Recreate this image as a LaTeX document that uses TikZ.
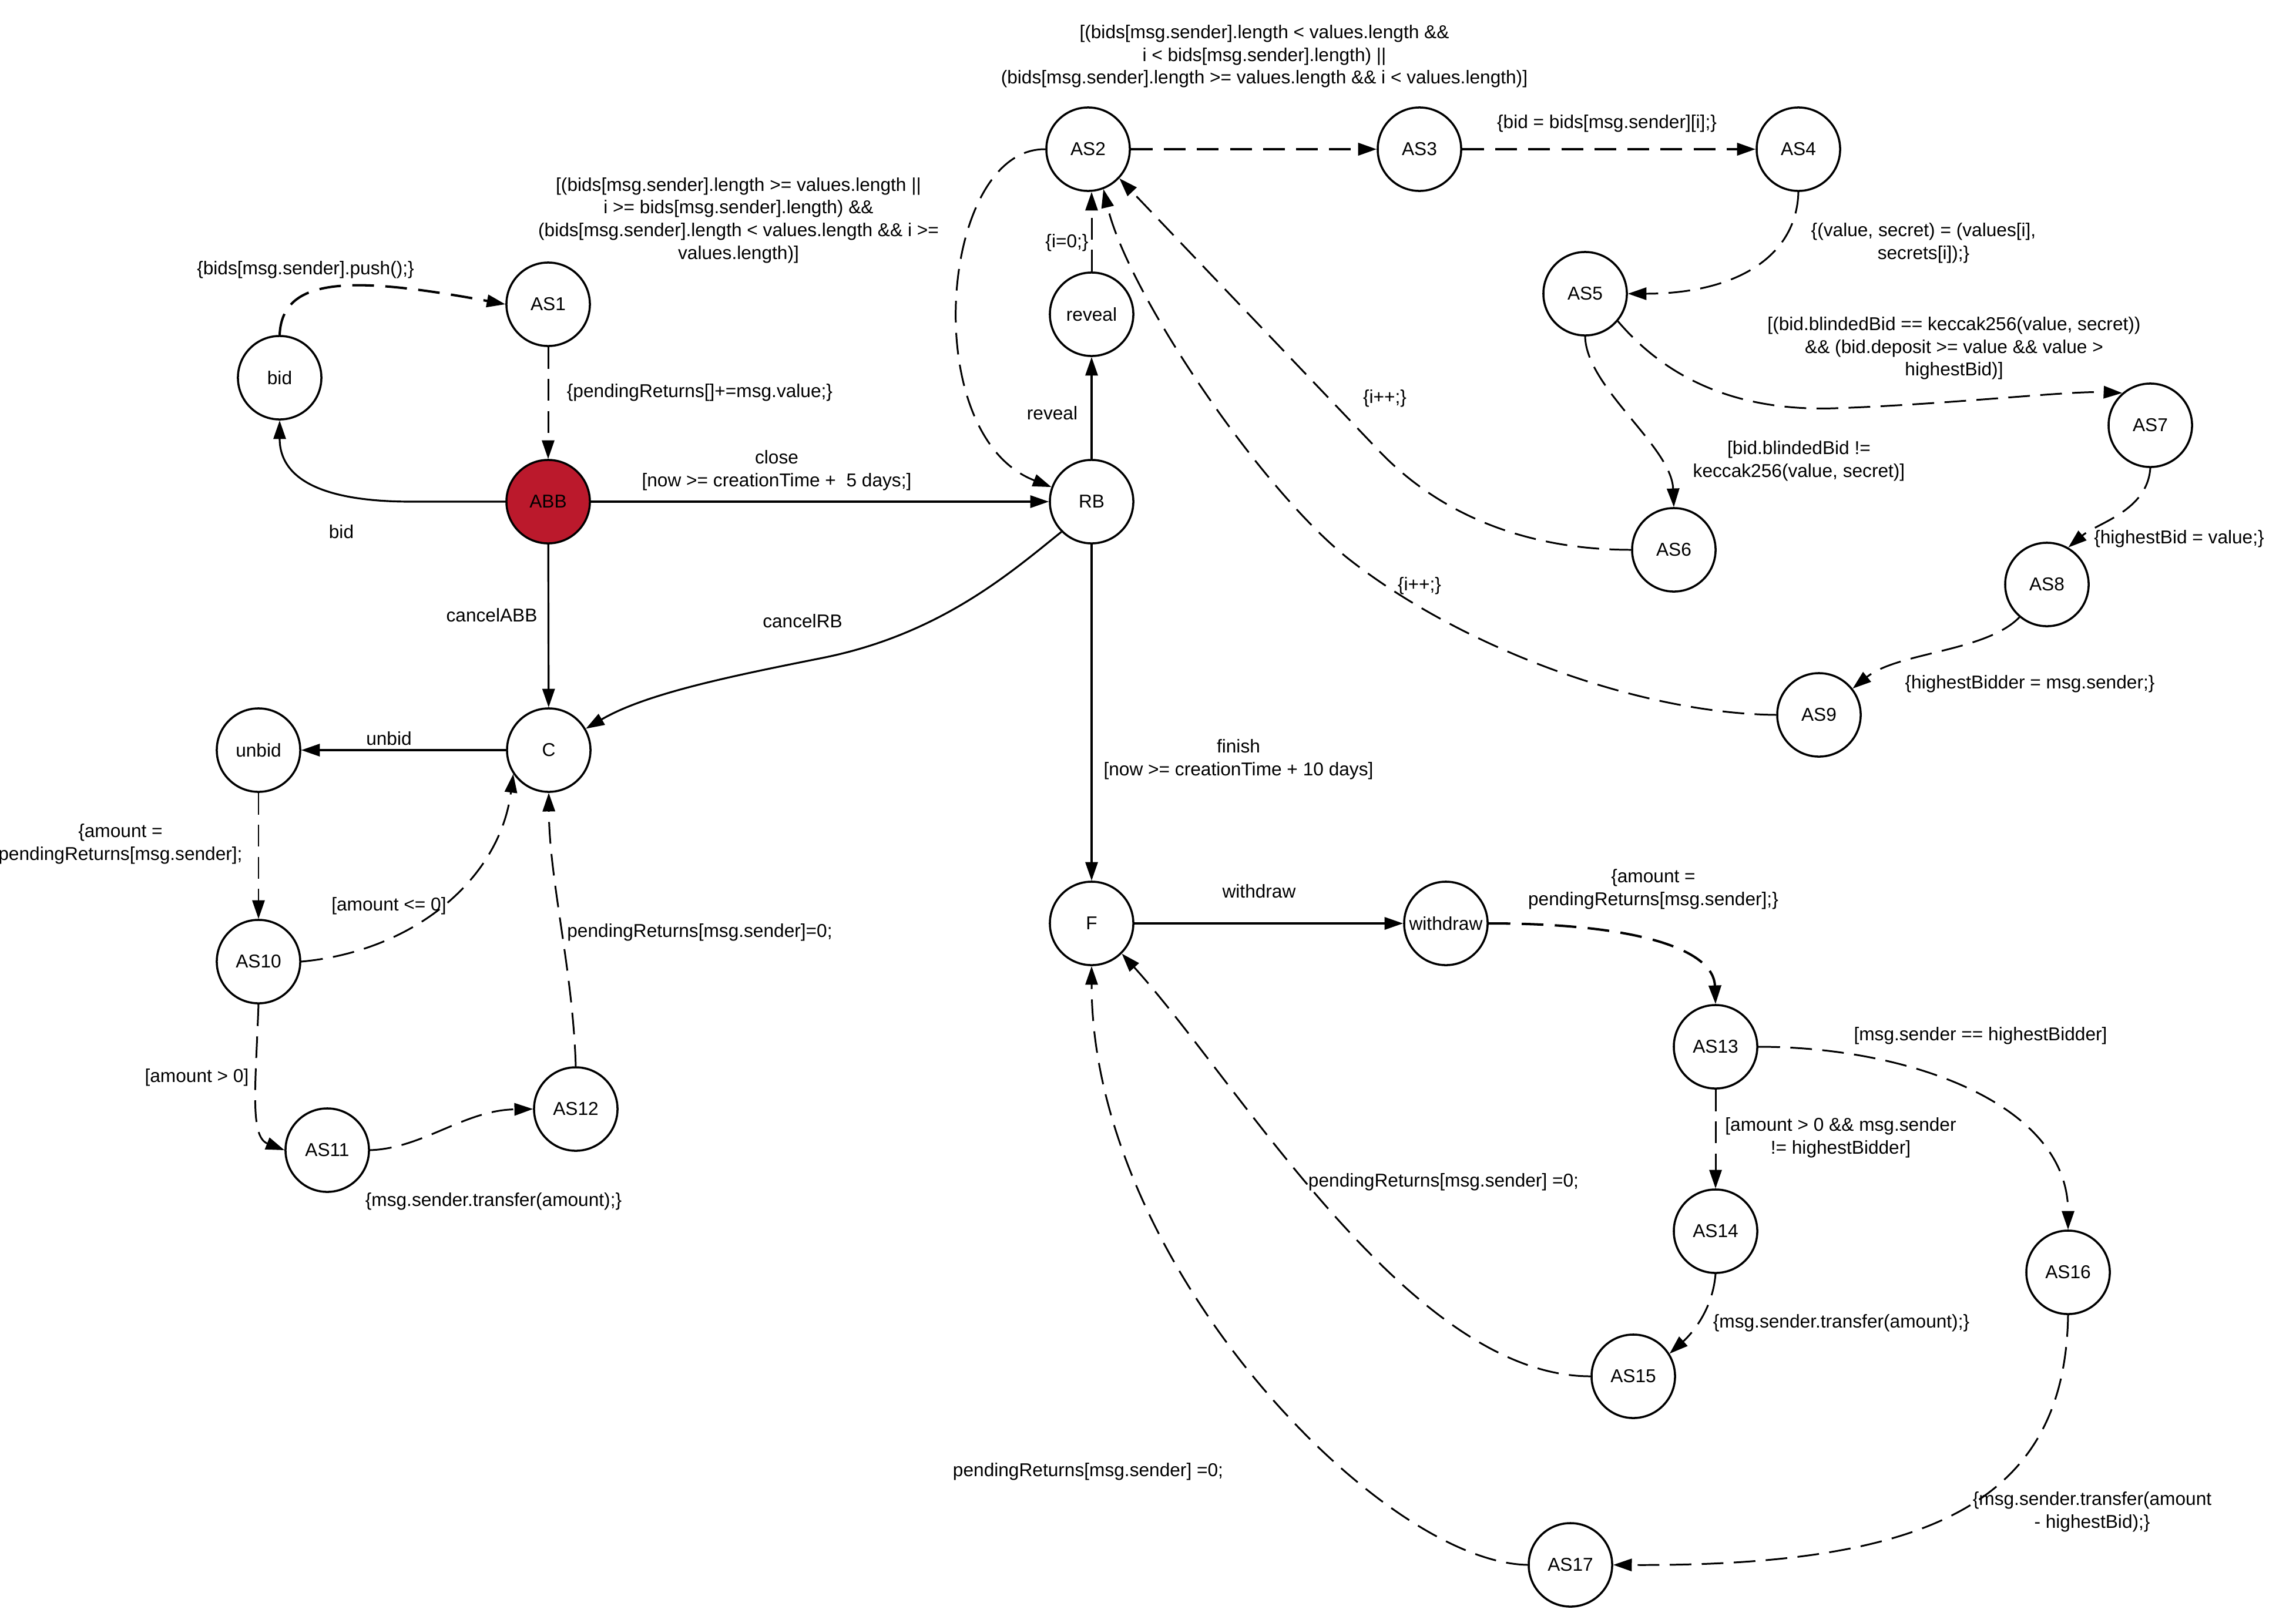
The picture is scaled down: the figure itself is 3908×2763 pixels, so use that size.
\documentclass[tikz,border=0pt]{standalone}
\usepackage{fontspec}
\setmainfont{Liberation Sans}
\usetikzlibrary{arrows.meta}
\definecolor{abbred}{RGB}{187,25,44}
\begin{document}
\begin{tikzpicture}[x=0.01cm,y=-0.01cm,
  st/.style={circle,draw,line width=1pt,minimum size=1.42cm,inner sep=0pt,font=\fontsize{9}{11}\selectfont},
  lbl/.style={align=center,font=\fontsize{9}{11}\selectfont,inner sep=0pt},
  tr/.style={line width=0.9pt,-{Triangle[length=9pt,width=6pt]}},
  dtr/.style={line width=0.85pt,dash pattern=on 10.5pt off 5pt,-{Triangle[length=9pt,width=6pt]}},
  dtrb/.style={line width=1.15pt,dash pattern=on 10.5pt off 5.5pt,-{Triangle[length=9pt,width=6pt]}},
]
\fill[white] (0,0) rectangle (3908,2763);
\useasboundingbox (0,0) rectangle (3908,2763);

% states
\node[st] (bid) at (476,643) {bid};
\node[st] (AS1) at (933,518) {AS1};
\node[st,fill=abbred] (ABB) at (933,854) {ABB};
\node[st] (RB) at (1858,854) {RB};
\node[st] (reveal) at (1858,535) {reveal};
\node[st] (AS2) at (1852,254) {AS2};
\node[st] (AS3) at (2416,254) {AS3};
\node[st] (AS4) at (3061,254) {AS4};
\node[st] (AS5) at (2698,500) {AS5};
\node[st] (AS6) at (2849,936) {AS6};
\node[st] (AS7) at (3660,724) {AS7};
\node[st] (AS8) at (3484,995) {AS8};
\node[st] (AS9) at (3096,1217) {AS9};
\node[st] (C) at (934,1277) {C};
\node[st] (unbid) at (440,1277) {unbid};
\node[st] (AS10) at (440,1637) {AS10};
\node[st] (AS11) at (557,1958) {AS11};
\node[st] (AS12) at (980,1888) {AS12};
\node[st] (F) at (1858,1572) {F};
\node[st] (withdraw) at (2461,1572) {withdraw};
\node[st] (AS13) at (2920,1782) {AS13};
\node[st] (AS14) at (2920,2096) {AS14};
\node[st] (AS15) at (2780,2343) {AS15};
\node[st] (AS16) at (3520,2166) {AS16};
\node[st] (AS17) at (2673,2664) {AS17};

% solid transitions
\draw[tr] (ABB.west) -- (700,854) .. controls (520,854) and (476,800) .. (bid.south);
\draw[tr] (ABB) -- (RB);
\draw[tr] (ABB) -- (C);
\draw[tr] (RB.-135) .. controls (1720,975) and (1600,1080) .. (1400,1120) .. controls (1250,1150) and (1100,1180) .. (C.30);
\draw[tr] (RB) -- (reveal);
\draw[tr] (C) -- (unbid);
\draw[tr] (RB) -- (F);
\draw[tr] (F) -- (withdraw);

% dashed transitions
\draw[dtrb] (bid.north) .. controls (480,470) and (600,470) .. (AS1.west);
\draw[dtr] (AS1) -- (ABB);
\draw[dtr] (reveal.north) -- (reveal.north |- AS2.south);
\draw[dtr] (AS2.west) .. controls (1600,252) and (1560,740) .. (RB.160);
\draw[dtrb] (AS2) -- (AS3);
\draw[dtrb] (AS3) -- (AS4);
\draw[dtr] (AS4.south) .. controls (3058,440) and (2950,500) .. (AS5.east);
\draw[dtr] (AS5.-40) .. controls (2850,660) and (2980,700) .. (3124,695) .. controls (3324,688) and (3520,665) .. (AS7.131);
\draw[dtr] (AS5.south) .. controls (2700,660) and (2845,760) .. (AS6.north);
\draw[dtr] (AS6.west) .. controls (2620,936) and (2460,890) .. (2340,760) -- (AS2.-43);
\draw[dtr] (AS7.south) .. controls (3655,870) and (3570,890) .. (AS8.60);
\draw[dtr] (AS8.-130) .. controls (3380,1110) and (3230,1110) .. (AS9.38);
\draw[dtr] (AS9.west) .. controls (2800,1215) and (2500,1110) .. (2300,955) .. controls (2150,840) and (1920,500) .. (AS2.-69);
\draw[dtr] (unbid) -- (AS10);
\draw[dtr] (AS10.east) .. controls (700,1620) and (850,1500) .. (C.-146);
\draw[dtr] (AS10.south) .. controls (435,1850) and (425,1935) .. (AS11.west);
\draw[dtr] (AS11.east) .. controls (720,1955) and (790,1890) .. (AS12.west);
\draw[dtr] (AS12.north) .. controls (975,1650) and (935,1500) .. (C.south);
\draw[dtrb] (withdraw.east) .. controls (2800,1572) and (2917,1620) .. (AS13.north);
\draw[dtr] (AS13) -- (AS14);
\draw[dtr] (AS13.east) .. controls (3250,1782) and (3520,1880) .. (AS16.north);
\draw[dtr] (AS14.south) .. controls (2915,2230) and (2880,2270) .. (AS15.32);
\draw[dtr] (AS15.west) .. controls (2400,2343) and (2110,1845) .. (F.-45);
\draw[dtr] (AS16.south) .. controls (3515,2560) and (3280,2667) .. (AS17.east);
\draw[dtr] (AS17.west) .. controls (2350,2660) and (1858,2150) .. (F.south);

% labels
\node[lbl] (l1) at (581,905) {bid};
\node[lbl] (l2) at (1322,801) {close\\{}[now >= creationTime +\ \ 5 days;]};
\node[lbl] (l3) at (837,1047) {cancelABB};
\node[lbl] (l4) at (1366,1057) {cancelRB};
\node[lbl] (l5) at (1791,703) {reveal};
\node[lbl] (l6) at (662,1257) {unbid};
\node[lbl] (l7) at (2108,1293) {finish\\{}[now >= creationTime + 10 days]};
\node[lbl] (l8) at (2143,1517) {withdraw};
\node[lbl] (l9) at (520,459) {\{bids[msg.sender].push();\}};
\node[lbl] (l10) at (1191,668) {\{pendingReturns[]+=msg.value;\}};
\node[lbl] (l11) at (1816,413) {\{i=0;\}};
\node[lbl] (l12) at (1257,375) {[(bids[msg.sender].length >= values.length ||\\i >= bids[msg.sender].length) \&\&\\(bids[msg.sender].length < values.length \&\& i >=\\values.length)]};
\node[lbl] (l13) at (2152,96) {[(bids[msg.sender].length < values.length \&\&\\i < bids[msg.sender].length) ||\\(bids[msg.sender].length >= values.length \&\& i < values.length)]};
\node[lbl] (l14) at (2735,210) {\{bid = bids[msg.sender][i];\}};
\node[lbl] (l15) at (3274,414) {\{(value, secret) = (values[i],\\secrets[i]);\}};
\node[lbl] (l16) at (3326,593) {[(bid.blindedBid == keccak256(value, secret))\\\&\& (bid.deposit >= value \&\& value >\\highestBid)]};
\node[lbl] (l17) at (3062,785) {[bid.blindedBid !=\\keccak256(value, secret)]};
\node[lbl] (l18) at (2357,678) {\{i++;\}};
\node[lbl] (l19) at (3709,917) {\{highestBid = value;\}};
\node[lbl] (l20) at (3455,1164) {\{highestBidder = msg.sender;\}};
\node[lbl] (l21) at (2416,997) {\{i++;\}};
\node[lbl] (l22) at (205,1437) {\{amount =\\pendingReturns[msg.sender];};
\node[lbl] (l23) at (662,1542) {[amount <= 0]};
\node[lbl] (l24) at (335,1834) {[amount > 0]};
\node[lbl] (l25) at (840,2045) {\{msg.sender.transfer(amount);\}};
\node[lbl] (l26) at (1191,1587) {pendingReturns[msg.sender]=0;};
\node[lbl] (l27) at (2814,1514) {\{amount =\\pendingReturns[msg.sender];\}};
\node[lbl] (l28) at (3371,1763) {[msg.sender == highestBidder]};
\node[lbl] (l29) at (3133,1937) {[amount > 0 \&\& msg.sender\\!= highestBidder]};
\node[lbl] (l30) at (3134,2252) {\{msg.sender.transfer(amount);\}};
\node[lbl] (l31) at (2457,2012) {pendingReturns[msg.sender] =0;};
\node[lbl] (l32) at (3561,2574) {\{msg.sender.transfer(amount\\- highestBid);\}};
\node[lbl] (l33) at (1852,2505) {pendingReturns[msg.sender] =0;};
\end{tikzpicture}
\end{document}
